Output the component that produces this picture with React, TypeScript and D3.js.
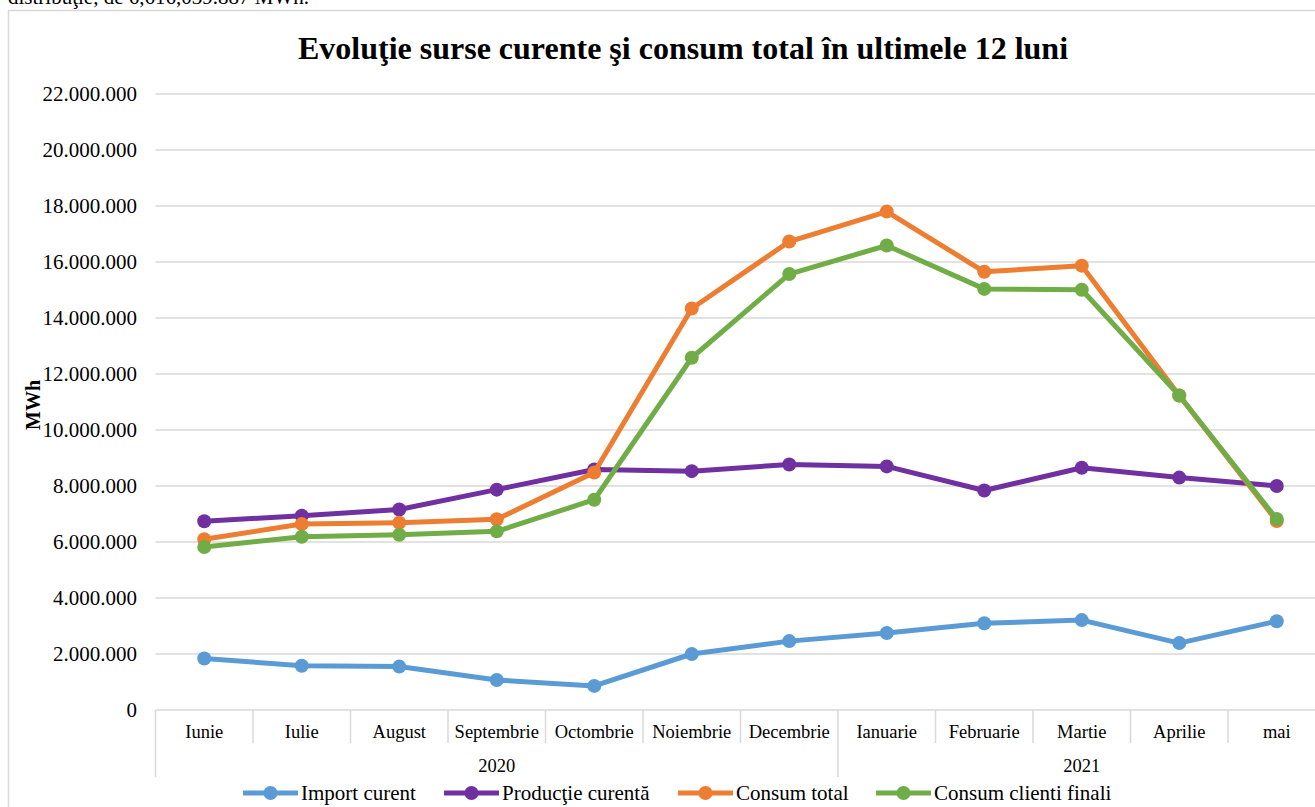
import { useEffect, useRef } from 'react';
import * as d3 from 'd3';

const months = [
  'Iunie',
  'Iulie',
  'August',
  'Septembrie',
  'Octombrie',
  'Noiembrie',
  'Decembrie',
  'Ianuarie',
  'Februarie',
  'Martie',
  'Aprilie',
  'mai',
];
const years = [
  { label: '2020', from: 0, to: 7 },
  { label: '2021', from: 7, to: 12 },
];
const importCurent = [
  1840000, 1580000, 1550000, 1070000, 860000, 2000000, 2460000, 2750000, 3100000,
  3210000, 2390000, 3170000,
];
const productieCurenta = [
  6740000, 6940000, 7160000, 7870000, 8590000, 8530000, 8770000, 8700000, 7840000,
  8650000, 8300000, 8000000,
];
const consumTotal = [
  6100000, 6640000, 6690000, 6810000, 8480000, 14340000, 16730000, 17800000,
  15650000, 15870000, 11230000, 6750000,
];
const consumClienti = [
  5820000, 6190000, 6260000, 6380000, 7510000, 12580000, 15570000, 16590000,
  15040000, 15010000, 11230000, 6820000,
];
const yTicks = [0, 2e6, 4e6, 6e6, 8e6, 10e6, 12e6, 14e6, 16e6, 18e6, 20e6, 22e6];

const series = [
  { name: 'Import curent', values: importCurent, color: '#5B9BD5' },
  { name: 'Producţie curentă', values: productieCurenta, color: '#7030A0' },
  { name: 'Consum total', values: consumTotal, color: '#ED7D31' },
  { name: 'Consum clienti finali', values: consumClienti, color: '#70AD47' },
];

const FONT = "'Liberation Serif', 'Times New Roman', serif";

const App = () => {
  const svgRef = useRef<SVGSVGElement>(null);

  useEffect(() => {
    const svg = d3.select(svgRef.current);
    svg.selectAll('*').remove();

    const width = 1315;
    const height = 807;
    const plot = { left: 155.5, right: 1325.5, top: 94, bottom: 710 };

    // текст над диаграммой (обрезан краем страницы)
    svg
      .append('text')
      .attr('x', 8)
      .attr('y', 4)
      .attr('font-family', FONT)
      .attr('font-size', 21)
      .attr('fill', '#000')
      .text('distribuţie, de 6,616,039.887 MWh.');

    // рамка
    svg
      .append('rect')
      .attr('x', 8.5)
      .attr('y', 10.5)
      .attr('width', width + 20)
      .attr('height', height + 20)
      .attr('fill', '#fff')
      .attr('stroke', '#d9d9d9')
      .attr('stroke-width', 1.5);

    svg
      .append('text')
      .attr('x', 683)
      .attr('y', 59)
      .attr('text-anchor', 'middle')
      .attr('font-family', FONT)
      .attr('font-weight', 'bold')
      .attr('font-size', 32)
      .text('Evoluţie surse curente şi consum total în ultimele 12 luni');

    const x = d3
      .scaleBand()
      .domain(months)
      .range([plot.left, plot.right]);

    const y = d3.scaleLinear().domain([0, 22e6]).range([plot.bottom, plot.top]);

    const fmt = (v: number) => d3.format(',')(v).replace(/,/g, '.');

    // сетка
    svg
      .append('g')
      .selectAll('line')
      .data(yTicks)
      .enter()
      .append('line')
      .attr('x1', plot.left)
      .attr('x2', width)
      .attr('y1', (d) => y(d))
      .attr('y2', (d) => y(d))
      .attr('stroke', '#d9d9d9')
      .attr('stroke-width', 1.5);

    svg
      .append('g')
      .selectAll('text')
      .data(yTicks)
      .enter()
      .append('text')
      .attr('x', 137)
      .attr('y', (d) => y(d))
      .attr('dy', '0.35em')
      .attr('text-anchor', 'end')
      .attr('font-family', FONT)
      .attr('font-size', 21)
      .text((d) => fmt(d));

    svg
      .append('text')
      .attr('transform', 'translate(40,405) rotate(-90)')
      .attr('text-anchor', 'middle')
      .attr('font-family', FONT)
      .attr('font-weight', 'bold')
      .attr('font-size', 20)
      .text('MWh');

    // ось категорий
    const axis = svg.append('g');
    const boundaries = d3.range(months.length + 1);
    const yearEdges = new Set(years.flatMap((yr) => [yr.from, yr.to]));
    axis
      .selectAll('line')
      .data(boundaries)
      .enter()
      .append('line')
      .attr('x1', (i) => plot.left + i * x.bandwidth())
      .attr('x2', (i) => plot.left + i * x.bandwidth())
      .attr('y1', plot.bottom)
      .attr('y2', (i) => (yearEdges.has(i) ? 777 : 743))
      .attr('stroke', '#d9d9d9')
      .attr('stroke-width', 1.5);

    axis
      .selectAll('text.month')
      .data(months)
      .enter()
      .append('text')
      .attr('class', 'month')
      .attr('x', (d) => x(d)! + x.bandwidth() / 2)
      .attr('y', 738)
      .attr('text-anchor', 'middle')
      .attr('font-family', FONT)
      .attr('font-size', 18.5)
      .text((d) => d);

    axis
      .selectAll('text.year')
      .data(years)
      .enter()
      .append('text')
      .attr('class', 'year')
      .attr('x', (d) => plot.left + ((d.from + d.to) / 2) * x.bandwidth())
      .attr('y', 772)
      .attr('text-anchor', 'middle')
      .attr('font-family', FONT)
      .attr('font-size', 18.5)
      .text((d) => d.label);

    // линии
    const line = d3
      .line<number>()
      .x((_, i) => x(months[i])! + x.bandwidth() / 2)
      .y((d) => y(d));

    series.forEach((s) => {
      const g = svg.append('g');
      g.append('path')
        .datum(s.values)
        .attr('d', line)
        .attr('fill', 'none')
        .attr('stroke', s.color)
        .attr('stroke-width', 5)
        .attr('stroke-linejoin', 'round');
      g.selectAll('circle')
        .data(s.values)
        .enter()
        .append('circle')
        .attr('cx', (_, i) => x(months[i])! + x.bandwidth() / 2)
        .attr('cy', (d) => y(d))
        .attr('r', 7)
        .attr('fill', s.color);
    });

    // легенда
    const legendX = [243, 444, 678, 876];
    const legend = svg
      .append('g')
      .selectAll('g')
      .data(series)
      .enter()
      .append('g')
      .attr('transform', (_, i) => `translate(${legendX[i]},793)`);
    legend
      .append('line')
      .attr('x1', 0)
      .attr('x2', 55)
      .attr('stroke', (d) => d.color)
      .attr('stroke-width', 5);
    legend
      .append('circle')
      .attr('cx', 27.5)
      .attr('r', 7)
      .attr('fill', (d) => d.color);
    legend
      .append('text')
      .attr('x', 58)
      .attr('dy', '0.35em')
      .attr('font-family', FONT)
      .attr('font-size', 21)
      .text((d) => d.name);
  }, []);

  return (
    <svg
      ref={svgRef}
      width={1315}
      height={807}
      style={{ position: 'absolute', left: 0, top: 0, background: '#fff' }}
    ></svg>
  );
};

export default App;
